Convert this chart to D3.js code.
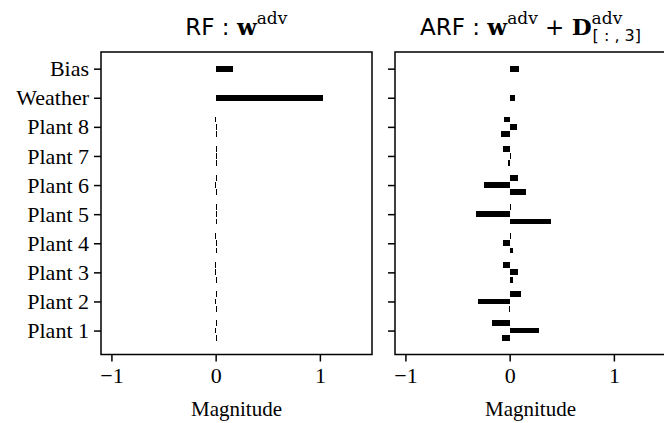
<!DOCTYPE html>
<html>
<head>
<meta charset="utf-8">
<script src="https://cdn.jsdelivr.net/npm/d3@7/dist/d3.min.js"></script>
<style>
  body { margin: 0; background: white; }
</style>
</head>
<body>
<div id="chart"></div>
<script>
// tamaños
var chart_width  = 664;
var chart_height = 423;

var margin = { top: 52, bottom: 68.5 };
var panel_width = 271;
var panel_left  = [101, 395];

// datos
var filasSimples = ["Bias", "Weather"];
var rf_simples   = [0.17, 1.03];
var arf_simples  = [0.09, 0.05];

var plantas = ["Plant 8", "Plant 7", "Plant 6", "Plant 5", "Plant 4", "Plant 3", "Plant 2", "Plant 1"];
// three bars per plant: upper, middle, lower
var rf_arriba  = [-0.01, 0.01, 0.01, 0.01, -0.01, -0.01, 0.01, 0.01];
var rf_medio   = [0.01, 0.01, -0.01, 0.01, 0.01, -0.01, -0.01, -0.01];
var rf_abajo   = [0.01, 0.01, 0.01, 0.01, 0.01, 0.01, 0.01, 0.01];
var arf_arriba = [-0.05, -0.06, 0.08, 0.01, 0.01, -0.065, 0.11, -0.17];
var arf_medio  = [0.075, 0.015, -0.25, -0.32, -0.065, 0.08, -0.30, 0.28];
var arf_abajo  = [-0.085, -0.015, 0.16, 0.40, 0.03, 0.035, -0.01, -0.075];

var ticksX   = [-1, 0, 1];
var dominioX = [-1.1, 1.5];

var categorias = filasSimples.concat(plantas);   // top to bottom
var n = categorias.length;
var offset = 0.25, alto = 0.2;

function posicion(i) { return n - 1 - i; }  // Bias arriba

// dominio Y como matplotlib (5% margen)
var yMin = -offset - alto / 2, yMax = (n - 1) + alto / 2;
var pad = (yMax - yMin) * 0.05;

var svg = d3.select("#chart")
    .append("svg")
    .attr("width", chart_width)
    .attr("height", chart_height)
    .style("display", "block");

var escalaY = d3.scaleLinear()
    .domain([yMin - pad, yMax + pad])
    .range([chart_height - margin.bottom, margin.top]);

function armarBarras(simples, arriba, medio, abajo) {
  var barras = [];
  simples.forEach(function(v, i) { barras.push({ pos: posicion(i), valor: v }); });
  plantas.forEach(function(p, j) {
    var c = posicion(j + simples.length);
    barras.push({ pos: c + offset, valor: arriba[j] });
    barras.push({ pos: c,          valor: medio[j] });
    barras.push({ pos: c - offset, valor: abajo[j] });
  });
  return barras;
}

function dibujarPanel(x0, barras, conEtiquetas) {
  var escalaX = d3.scaleLinear().domain(dominioX).range([x0, x0 + panel_width]);
  var g = svg.append("g");

  g.selectAll("rect.barra")
    .data(barras)
    .join("rect")
    .attr("class", "barra")
    .attr("x", d => escalaX(Math.min(0, d.valor)))
    .attr("width", d => Math.abs(escalaX(d.valor) - escalaX(0)))
    .attr("y", d => escalaY(d.pos + alto / 2))
    .attr("height", d => escalaY(d.pos - alto / 2) - escalaY(d.pos + alto / 2))
    .attr("fill", "black")
    .attr("shape-rendering", "crispEdges");

  // marco
  g.append("rect")
    .attr("x", x0)
    .attr("y", margin.top)
    .attr("width", panel_width)
    .attr("height", chart_height - margin.bottom - margin.top)
    .attr("fill", "none")
    .attr("stroke", "black")
    .attr("stroke-width", 1.5);

  var ejeX = d3.axisBottom(escalaX)
    .tickValues(ticksX)
    .tickFormat(d3.format("d"))
    .tickSize(7).tickPadding(6);
  var gx = g.append("g")
    .attr("transform", "translate(0," + (chart_height - margin.bottom) + ")")
    .call(ejeX);

  var ejeY = d3.axisLeft(escalaY)
    .tickValues(categorias.map((c, i) => posicion(i)))
    .tickFormat(v => conEtiquetas ? categorias[n - 1 - v] : "")
    .tickSize(7).tickPadding(5);
  var gy = g.append("g")
    .attr("transform", "translate(" + x0 + ",0)")
    .call(ejeY);

  [gx, gy].forEach(function(a) {
    a.select(".domain").remove();
    a.selectAll("line").attr("stroke-width", 1.5);
    a.selectAll("text")
      .style("font-family", "'Liberation Serif', serif")
      .style("font-size", "22px")
      .attr("fill", "black");
  });

  g.append("text")
    .attr("x", x0 + panel_width / 2)
    .attr("y", 416)
    .attr("text-anchor", "middle")
    .style("font-family", "'Liberation Serif', serif")
    .style("font-size", "21px")
    .text("Magnitude");

  return x0 + panel_width / 2;
}

var c1 = dibujarPanel(panel_left[0], armarBarras(rf_simples, rf_arriba, rf_medio, rf_abajo), true);
var c2 = dibujarPanel(panel_left[1], armarBarras(arf_simples, arf_arriba, arf_medio, arf_abajo), false);

// titulos
function titulo() {
  return svg.append("text")
    .attr("x", 0).attr("y", 35)
    .style("font-family", "'DejaVu Sans', sans-serif")
    .style("font-size", "23px");
}
function negrita(t, s) {
  t.append("tspan").style("font-family", "'DejaVu Serif', serif").style("font-weight", "bold").text(s);
}
function sup(t, s, dy) {
  return t.append("tspan").attr("dy", dy).style("font-family", "'DejaVu Serif', serif").style("font-size", "17px").text(s);
}
// centrar en el panel
function centrar(t, cx) {
  var b = t.node().getBBox();
  t.attr("x", cx - b.width / 2);
}

var t1 = titulo();
t1.append("tspan").text("RF : ");
negrita(t1, "w");
sup(t1, "adv", -11);
centrar(t1, c1);

var t2 = titulo();
t2.append("tspan").text("ARF : ");
negrita(t2, "w");
sup(t2, "adv", -11);
t2.append("tspan").attr("dy", 11).text(" + ");
negrita(t2, "D");
var s2 = sup(t2, "adv", -11);
var largo = s2.node().getComputedTextLength();
t2.append("tspan")
  .attr("dx", -largo + 1).attr("dy", 17)
  .style("font-size", "16px")
  .text("[ : , 3]");
centrar(t2, c2);
</script>
</body>
</html>
